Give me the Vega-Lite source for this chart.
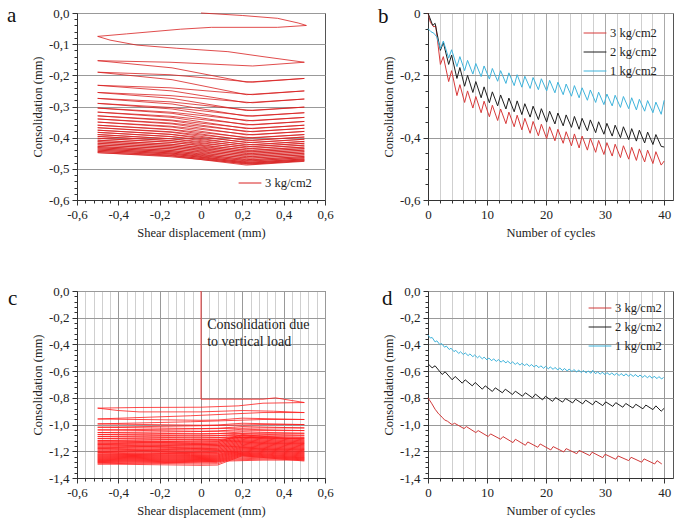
{
"$schema":"https://vega.github.io/schema/vega-lite/v6.json",
"padding":{"left":6,"top":4,"right":5,"bottom":5},
"config":{
 "font":"Liberation Serif",
 "view":{"stroke":"#555","strokeWidth":1},
 "axis":{"labelFont":"Liberation Serif","labelFontSize":13,"labelColor":"#222","labelFlush":false,"titleFont":"Liberation Serif","titleFontSize":12.5,"titleFontWeight":"normal","titleColor":"#222","domainColor":"#333","tickColor":"#333","tickSize":5,"labelPadding":3,"titlePadding":4,"gridColor":"#999","gridWidth":1},
 "axisX":{"labelPadding":3,"titlePadding":5},
 "legend":{"labelFont":"Liberation Serif","labelFontSize":12.5,"labelColor":"#222","symbolType":"stroke","symbolSize":520,"symbolStrokeWidth":1,"padding":0,"rowPadding":-6,"labelOffset":3},
 "title":{"font":"Liberation Serif","fontSize":21,"fontWeight":"normal","anchor":"start","frame":"group","offset":0,"color":"#111","baseline":"alphabetic"}
},
"columns":2,
"bounds":"flush",
"spacing":{"row":91,"column":103},
"resolve":{"scale":{"color":"independent"},"legend":{"color":"independent"}},
"concat":[
{
 "width":248,"height":187,
 "title":{"text":"a","dx":-70,"dy":23},
 "data":{"values":[
{"x":0,"y":0},{"x":0.2,"y":-0.008},{"x":0.37,"y":-0.017},{"x":0.47,"y":-0.032},{"x":0.51,"y":-0.04},
{"x":0.37,"y":-0.046},{"x":0.05,"y":-0.046},{"x":-0.1,"y":-0.052},{"x":-0.36,"y":-0.067},{"x":-0.5,"y":-0.075},
{"x":-0.44,"y":-0.087},{"x":-0.31,"y":-0.103},{"x":-0.12,"y":-0.113},{"x":0.13,"y":-0.124},{"x":0.3,"y":-0.14},{"x":0.5,"y":-0.158},
{"x":0.25,"y":-0.17},{"x":-0.15,"y":-0.158},{"x":-0.5,"y":-0.153},{"x":-0.14,"y":-0.176},{"x":0.22,"y":-0.222},{"x":0.5,"y":-0.21},
{"x":0.25,"y":-0.222},{"x":-0.15,"y":-0.198},{"x":-0.5,"y":-0.19},{"x":-0.14,"y":-0.214},{"x":0.22,"y":-0.262},{"x":0.5,"y":-0.25},
{"x":0.25,"y":-0.262},{"x":-0.15,"y":-0.24},{"x":-0.5,"y":-0.232},{"x":-0.14,"y":-0.25},{"x":0.22,"y":-0.288},{"x":0.5,"y":-0.276},
{"x":0.25,"y":-0.288},{"x":-0.15,"y":-0.265},{"x":-0.5,"y":-0.255},{"x":-0.14,"y":-0.274},{"x":0.22,"y":-0.313},{"x":0.5,"y":-0.302},
{"x":0.25,"y":-0.313},{"x":-0.15,"y":-0.285},{"x":-0.5,"y":-0.274},{"x":-0.14,"y":-0.292},{"x":0.22,"y":-0.331},{"x":0.5,"y":-0.32},
{"x":0.25,"y":-0.331},{"x":-0.15,"y":-0.303},{"x":-0.5,"y":-0.29},{"x":-0.14,"y":-0.308},{"x":0.22,"y":-0.346},{"x":0.5,"y":-0.335},
{"x":0.25,"y":-0.346},{"x":-0.15,"y":-0.318},{"x":-0.5,"y":-0.305},{"x":-0.14,"y":-0.322},{"x":0.22,"y":-0.359},{"x":0.5,"y":-0.348},
{"x":0.25,"y":-0.359},{"x":-0.15,"y":-0.331},{"x":-0.5,"y":-0.318},{"x":-0.14,"y":-0.335},{"x":0.22,"y":-0.371},{"x":0.5,"y":-0.36},
{"x":0.25,"y":-0.371},{"x":-0.15,"y":-0.343},{"x":-0.5,"y":-0.33},{"x":-0.14,"y":-0.346},{"x":0.22,"y":-0.381},{"x":0.5,"y":-0.37},
{"x":0.25,"y":-0.381},{"x":-0.15,"y":-0.353},{"x":-0.5,"y":-0.34},{"x":-0.14,"y":-0.356},{"x":0.22,"y":-0.391},{"x":0.5,"y":-0.38},
{"x":0.25,"y":-0.391},{"x":-0.15,"y":-0.363},{"x":-0.5,"y":-0.35},{"x":-0.14,"y":-0.366},{"x":0.22,"y":-0.401},{"x":0.5,"y":-0.39},
{"x":0.25,"y":-0.401},{"x":-0.15,"y":-0.373},{"x":-0.5,"y":-0.36},{"x":-0.14,"y":-0.375},{"x":0.22,"y":-0.409},{"x":0.5,"y":-0.398},
{"x":0.25,"y":-0.409},{"x":-0.15,"y":-0.381},{"x":-0.5,"y":-0.368},{"x":-0.14,"y":-0.383},{"x":0.22,"y":-0.416},{"x":0.5,"y":-0.405},
{"x":0.25,"y":-0.416},{"x":-0.15,"y":-0.389},{"x":-0.5,"y":-0.376},{"x":-0.14,"y":-0.39},{"x":0.22,"y":-0.423},{"x":0.5,"y":-0.412},
{"x":0.25,"y":-0.423},{"x":-0.15,"y":-0.396},{"x":-0.5,"y":-0.383},{"x":-0.14,"y":-0.397},{"x":0.22,"y":-0.429},{"x":0.5,"y":-0.418},
{"x":0.25,"y":-0.429},{"x":-0.15,"y":-0.403},{"x":-0.5,"y":-0.39},{"x":-0.14,"y":-0.404},{"x":0.22,"y":-0.435},{"x":0.5,"y":-0.424},
{"x":0.25,"y":-0.435},{"x":-0.15,"y":-0.409},{"x":-0.5,"y":-0.396},{"x":-0.14,"y":-0.41},{"x":0.22,"y":-0.441},{"x":0.5,"y":-0.43},
{"x":0.25,"y":-0.441},{"x":-0.15,"y":-0.415},{"x":-0.5,"y":-0.402},{"x":-0.14,"y":-0.415},{"x":0.22,"y":-0.446},{"x":0.5,"y":-0.435},
{"x":0.25,"y":-0.446},{"x":-0.15,"y":-0.421},{"x":-0.5,"y":-0.408},{"x":-0.14,"y":-0.421},{"x":0.22,"y":-0.451},{"x":0.5,"y":-0.44},
{"x":0.25,"y":-0.451},{"x":-0.15,"y":-0.426},{"x":-0.5,"y":-0.413},{"x":-0.14,"y":-0.426},{"x":0.22,"y":-0.456},{"x":0.5,"y":-0.445},
{"x":0.25,"y":-0.456},{"x":-0.15,"y":-0.431},{"x":-0.5,"y":-0.418},{"x":-0.14,"y":-0.431},{"x":0.22,"y":-0.461},{"x":0.5,"y":-0.45},
{"x":0.25,"y":-0.461},{"x":-0.15,"y":-0.436},{"x":-0.5,"y":-0.423},{"x":-0.14,"y":-0.436},{"x":0.22,"y":-0.466},{"x":0.5,"y":-0.455},
{"x":0.25,"y":-0.466},{"x":-0.15,"y":-0.441},{"x":-0.5,"y":-0.428},{"x":-0.14,"y":-0.441},{"x":0.22,"y":-0.471},{"x":0.5,"y":-0.46},
{"x":0.25,"y":-0.471},{"x":-0.15,"y":-0.445},{"x":-0.5,"y":-0.432},{"x":-0.14,"y":-0.445},{"x":0.22,"y":-0.475},{"x":0.5,"y":-0.464},
{"x":0.25,"y":-0.475},{"x":-0.15,"y":-0.449},{"x":-0.5,"y":-0.436},{"x":-0.14,"y":-0.449},{"x":0.22,"y":-0.479},{"x":0.5,"y":-0.468},
{"x":0.25,"y":-0.479},{"x":-0.15,"y":-0.453},{"x":-0.5,"y":-0.44},{"x":-0.14,"y":-0.452},{"x":0.22,"y":-0.482},{"x":0.5,"y":-0.471},
{"x":0.25,"y":-0.482},{"x":-0.15,"y":-0.457},{"x":-0.5,"y":-0.444},{"x":-0.14,"y":-0.456},{"x":0.22,"y":-0.485},{"x":0.5,"y":-0.474},
{"x":0.25,"y":-0.485},{"x":-0.15,"y":-0.461},{"x":-0.5,"y":-0.448},{"x":-0.14,"y":-0.459},{"x":0.22,"y":-0.488},{"x":0.5,"y":-0.476}
 ]},
 "layer":[
  {"mark":{"type":"line","strokeWidth":0.8},
   "encoding":{
    "x":{"field":"x","type":"quantitative","scale":{"domain":[-0.6,0.6],"nice":false,"zero":false},"axis":{"title":"Shear displacement (mm)","values":[-0.6,-0.4,-0.2,0,0.2,0.4,0.6],"grid":false,"labelExpr":"datum.value == 0 ? '0' : replace(replace(format(datum.value, '.1f'), '.', ','), '\u2212', '-')"}},
    "y":{"field":"y","type":"quantitative","scale":{"domain":[-0.6,0],"nice":false,"zero":false},"axis":{"title":"Consolidation (mm)","values":[0,-0.1,-0.2,-0.3,-0.4,-0.5,-0.6],"grid":true,"labelExpr":"replace(replace(format(datum.value, '.1f'), '.', ','), '\u2212', '-')"}},
    "color":{"datum":"3 kg/cm2","type":"nominal","scale":{"domain":["3 kg/cm2"],"range":["#d82020"]},"legend":{"orient":"none","legendX":161,"legendY":158,"title":null}},
    "order":{"value":null}
   }},
  {"mark":{"type":"line","strokeOpacity":0},
   "encoding":{
    "x":{"field":"x","type":"quantitative","axis":{"orient":"bottom","values":[-0.56,-0.52,-0.48,-0.44,-0.36,-0.32,-0.28,-0.24,-0.16,-0.12,-0.08,-0.04,0.04,0.08,0.12,0.16,0.24,0.28,0.32,0.36,0.44,0.48,0.52,0.56],"labels":false,"title":null,"tickSize":3,"grid":false,"domain":false}},
    "y":{"field":"y","type":"quantitative","axis":{"orient":"left","values":[-0.02,-0.04,-0.06,-0.08,-0.12,-0.14,-0.16,-0.18,-0.22,-0.24,-0.26,-0.28,-0.32,-0.34,-0.36,-0.38,-0.42,-0.44,-0.46,-0.48,-0.52,-0.54,-0.56,-0.58],"labels":false,"title":null,"tickSize":3,"grid":false,"domain":false}}
   }}
 ],
 "resolve":{"axis":{"x":"independent","y":"independent"}}
},
{
 "width":245,"height":187,
 "title":{"text":"b","dx":-50,"dy":24},
 "data":{"values":[
{"s":"3","x":0,"y":0},{"s":"3","x":0.4,"y":-0.03},{"s":"3","x":1.0,"y":-0.045},{"s":"3","x":1.3,"y":-0.04},
{"s":"3","x":2.1,"y":-0.165},{"s":"3","x":2.6,"y":-0.14},{"s":"3","x":3.5,"y":-0.22},{"s":"3","x":4.0,"y":-0.185},
{"s":"3","x":4.9,"y":-0.265},{"s":"3","x":5.4,"y":-0.23},{"s":"3","x":6.2,"y":-0.287},{"s":"3","x":6.7,"y":-0.25},
{"s":"3","x":7.6,"y":-0.305},{"s":"3","x":8.1,"y":-0.268},{"s":"3","x":9.0,"y":-0.32},{"s":"3","x":9.5,"y":-0.283},
{"s":"3","x":10.4,"y":-0.333},{"s":"3","x":10.9,"y":-0.296},{"s":"3","x":11.8,"y":-0.345},{"s":"3","x":12.3,"y":-0.308},
{"s":"3","x":13.2,"y":-0.355},{"s":"3","x":13.7,"y":-0.318},{"s":"3","x":14.6,"y":-0.365},{"s":"3","x":15.1,"y":-0.328},
{"s":"3","x":15.9,"y":-0.375},{"s":"3","x":16.4,"y":-0.338},{"s":"3","x":17.3,"y":-0.386},{"s":"3","x":17.8,"y":-0.348},
{"s":"3","x":18.7,"y":-0.394},{"s":"3","x":19.2,"y":-0.357},{"s":"3","x":20.1,"y":-0.403},{"s":"3","x":20.6,"y":-0.365},
{"s":"3","x":21.5,"y":-0.41},{"s":"3","x":22.0,"y":-0.373},{"s":"3","x":22.9,"y":-0.418},{"s":"3","x":23.4,"y":-0.381},
{"s":"3","x":24.3,"y":-0.426},{"s":"3","x":24.8,"y":-0.388},{"s":"3","x":25.6,"y":-0.433},{"s":"3","x":26.1,"y":-0.395},
{"s":"3","x":27.0,"y":-0.44},{"s":"3","x":27.5,"y":-0.402},{"s":"3","x":28.4,"y":-0.447},{"s":"3","x":28.9,"y":-0.409},
{"s":"3","x":29.8,"y":-0.454},{"s":"3","x":30.3,"y":-0.416},{"s":"3","x":31.2,"y":-0.459},{"s":"3","x":31.7,"y":-0.421},
{"s":"3","x":32.6,"y":-0.464},{"s":"3","x":33.1,"y":-0.426},{"s":"3","x":34.0,"y":-0.469},{"s":"3","x":34.5,"y":-0.431},
{"s":"3","x":35.3,"y":-0.473},{"s":"3","x":35.8,"y":-0.436},{"s":"3","x":36.7,"y":-0.478},{"s":"3","x":37.2,"y":-0.44},
{"s":"3","x":38.1,"y":-0.483},{"s":"3","x":38.6,"y":-0.445},{"s":"3","x":39.5,"y":-0.488},{"s":"3","x":40.0,"y":-0.475},
{"s":"2","x":0,"y":0},{"s":"2","x":0.3,"y":-0.015},{"s":"2","x":0.8,"y":-0.04},{"s":"2","x":1.2,"y":-0.033},
{"s":"2","x":2.1,"y":-0.12},{"s":"2","x":2.6,"y":-0.095},{"s":"2","x":3.5,"y":-0.165},{"s":"2","x":4.0,"y":-0.135},
{"s":"2","x":4.9,"y":-0.21},{"s":"2","x":5.4,"y":-0.175},{"s":"2","x":6.2,"y":-0.235},{"s":"2","x":6.7,"y":-0.2},
{"s":"2","x":7.6,"y":-0.255},{"s":"2","x":8.1,"y":-0.22},{"s":"2","x":9.0,"y":-0.272},{"s":"2","x":9.5,"y":-0.237},
{"s":"2","x":10.4,"y":-0.288},{"s":"2","x":10.9,"y":-0.253},{"s":"2","x":11.8,"y":-0.298},{"s":"2","x":12.3,"y":-0.263},
{"s":"2","x":13.2,"y":-0.308},{"s":"2","x":13.7,"y":-0.273},{"s":"2","x":14.6,"y":-0.317},{"s":"2","x":15.1,"y":-0.282},
{"s":"2","x":15.9,"y":-0.326},{"s":"2","x":16.4,"y":-0.291},{"s":"2","x":17.3,"y":-0.334},{"s":"2","x":17.8,"y":-0.299},
{"s":"2","x":18.7,"y":-0.342},{"s":"2","x":19.2,"y":-0.307},{"s":"2","x":20.1,"y":-0.35},{"s":"2","x":20.6,"y":-0.315},
{"s":"2","x":21.5,"y":-0.356},{"s":"2","x":22.0,"y":-0.321},{"s":"2","x":22.9,"y":-0.362},{"s":"2","x":23.4,"y":-0.327},
{"s":"2","x":24.3,"y":-0.367},{"s":"2","x":24.8,"y":-0.332},{"s":"2","x":25.6,"y":-0.373},{"s":"2","x":26.1,"y":-0.338},
{"s":"2","x":27.0,"y":-0.378},{"s":"2","x":27.5,"y":-0.343},{"s":"2","x":28.4,"y":-0.384},{"s":"2","x":28.9,"y":-0.349},
{"s":"2","x":29.8,"y":-0.389},{"s":"2","x":30.3,"y":-0.354},{"s":"2","x":31.2,"y":-0.395},{"s":"2","x":31.7,"y":-0.36},
{"s":"2","x":32.6,"y":-0.4},{"s":"2","x":33.1,"y":-0.365},{"s":"2","x":34.0,"y":-0.406},{"s":"2","x":34.5,"y":-0.371},
{"s":"2","x":35.3,"y":-0.411},{"s":"2","x":35.8,"y":-0.376},{"s":"2","x":36.7,"y":-0.417},{"s":"2","x":37.2,"y":-0.382},
{"s":"2","x":38.1,"y":-0.422},{"s":"2","x":38.6,"y":-0.39},{"s":"2","x":39.5,"y":-0.428},{"s":"2","x":40.0,"y":-0.43},
{"s":"1","x":0,"y":-0.05},{"s":"1","x":0.5,"y":-0.06},{"s":"1","x":1.0,"y":-0.065},{"s":"1","x":1.5,"y":-0.077},
{"s":"1","x":2.1,"y":-0.115},{"s":"1","x":2.6,"y":-0.09},{"s":"1","x":3.5,"y":-0.145},{"s":"1","x":4.0,"y":-0.118},
{"s":"1","x":4.9,"y":-0.172},{"s":"1","x":5.4,"y":-0.14},{"s":"1","x":6.2,"y":-0.185},{"s":"1","x":6.7,"y":-0.152},
{"s":"1","x":7.6,"y":-0.196},{"s":"1","x":8.1,"y":-0.162},{"s":"1","x":9.0,"y":-0.204},{"s":"1","x":9.5,"y":-0.17},
{"s":"1","x":10.4,"y":-0.212},{"s":"1","x":10.9,"y":-0.178},{"s":"1","x":11.8,"y":-0.219},{"s":"1","x":12.3,"y":-0.185},
{"s":"1","x":13.2,"y":-0.226},{"s":"1","x":13.7,"y":-0.192},{"s":"1","x":14.6,"y":-0.233},{"s":"1","x":15.1,"y":-0.198},
{"s":"1","x":15.9,"y":-0.238},{"s":"1","x":16.4,"y":-0.203},{"s":"1","x":17.3,"y":-0.242},{"s":"1","x":17.8,"y":-0.207},
{"s":"1","x":18.7,"y":-0.246},{"s":"1","x":19.2,"y":-0.211},{"s":"1","x":20.1,"y":-0.25},{"s":"1","x":20.6,"y":-0.216},
{"s":"1","x":21.5,"y":-0.256},{"s":"1","x":22.0,"y":-0.222},{"s":"1","x":22.9,"y":-0.262},{"s":"1","x":23.4,"y":-0.228},
{"s":"1","x":24.3,"y":-0.267},{"s":"1","x":24.8,"y":-0.233},{"s":"1","x":25.6,"y":-0.272},{"s":"1","x":26.1,"y":-0.24},
{"s":"1","x":27.0,"y":-0.28},{"s":"1","x":27.5,"y":-0.247},{"s":"1","x":28.4,"y":-0.287},{"s":"1","x":28.9,"y":-0.254},
{"s":"1","x":29.8,"y":-0.294},{"s":"1","x":30.3,"y":-0.26},{"s":"1","x":31.2,"y":-0.298},{"s":"1","x":31.7,"y":-0.264},
{"s":"1","x":32.6,"y":-0.303},{"s":"1","x":33.1,"y":-0.268},{"s":"1","x":34.0,"y":-0.307},{"s":"1","x":34.5,"y":-0.272},
{"s":"1","x":35.3,"y":-0.311},{"s":"1","x":35.8,"y":-0.277},{"s":"1","x":36.7,"y":-0.315},{"s":"1","x":37.2,"y":-0.281},
{"s":"1","x":38.1,"y":-0.32},{"s":"1","x":38.6,"y":-0.286},{"s":"1","x":39.5,"y":-0.325},{"s":"1","x":40.0,"y":-0.28}
 ]},
 "layer":[
  {"mark":{"type":"line","strokeWidth":1},
   "encoding":{
    "x":{"field":"x","type":"quantitative","scale":{"domain":[0,41.5],"nice":false,"zero":false},"axis":{"title":"Number of cycles","values":[0,10,20,30,40],"grid":true,"gridColor":"#aaa"}},
    "y":{"field":"y","type":"quantitative","scale":{"domain":[-0.6,0],"nice":false,"zero":false},"axis":{"title":"Consolidation (mm)","values":[0,-0.2,-0.4,-0.6],"grid":true,"labelExpr":"datum.value == 0 ? '0' : replace(replace(format(datum.value, '.1f'), '.', ','), '\u2212', '-')"}},
    "color":{"field":"s","type":"nominal","scale":{"domain":["3","2","1"],"range":["#d83a3a","#1e1e1e","#3fb4dc"]},"legend":{"orient":"none","legendX":155,"legendY":8,"title":null,"labelExpr":"datum.label + ' kg/cm2'"}}
   }},
  {"mark":{"type":"line","strokeOpacity":0},
   "encoding":{
    "x":{"field":"x","type":"quantitative","axis":{"orient":"bottom","values":[2,4,6,8,12,14,16,18,22,24,26,28,32,34,36,38],"labels":false,"title":null,"tickSize":3,"grid":true,"gridColor":"#cfcfcf","domain":false}},
    "y":{"field":"y","type":"quantitative","axis":{"orient":"left","values":[-0.05,-0.1,-0.15,-0.25,-0.3,-0.35,-0.45,-0.5,-0.55],"labels":false,"title":null,"tickSize":3,"grid":false,"domain":false}},
    "detail":{"field":"s","type":"nominal"}
   }}
 ],
 "resolve":{"axis":{"x":"independent","y":"independent"}}
},
{
 "width":248,"height":187,
 "title":{"text":"c","dx":-69,"dy":28},
 "data":{"values":[
{"x":0,"y":0},{"x":0,"y":-0.81},{"x":0.3,"y":-0.81},{"x":0.36,"y":-0.8},{"x":0.5,"y":-0.835},
{"x":0.3,"y":-0.84},{"x":0.18,"y":-0.86},{"x":0,"y":-0.87},{"x":-0.3,"y":-0.872},{"x":-0.5,"y":-0.877},
{"x":-0.4,"y":-0.895},{"x":-0.3,"y":-0.905},{"x":0,"y":-0.905},{"x":0.2,"y":-0.895},{"x":0.35,"y":-0.9},{"x":0.5,"y":-0.91},
{"x":0.3,"y":-0.91},{"x":-0.05,"y":-0.934},{"x":-0.5,"y":-0.958},{"x":0,"y":-0.968},{"x":0.08,"y":-0.966},{"x":0.2,"y":-0.952},{"x":0.5,"y":-0.962},
{"x":0.3,"y":-0.962},{"x":-0.05,"y":-0.979},{"x":-0.5,"y":-0.995},{"x":0,"y":-1.005},{"x":0.08,"y":-1.003},{"x":0.2,"y":-0.99},{"x":0.5,"y":-1.0},
{"x":0.3,"y":-1.0},{"x":-0.05,"y":-1.01},{"x":-0.5,"y":-1.02},{"x":0,"y":-1.03},{"x":0.08,"y":-1.028},{"x":0.2,"y":-1.015},{"x":0.5,"y":-1.025},
{"x":0.3,"y":-1.025},{"x":-0.05,"y":-1.033},{"x":-0.5,"y":-1.04},{"x":0,"y":-1.05},{"x":0.08,"y":-1.048},{"x":0.2,"y":-1.035},{"x":0.5,"y":-1.045},
{"x":0.3,"y":-1.045},{"x":-0.05,"y":-1.053},{"x":-0.5,"y":-1.06},{"x":0,"y":-1.07},{"x":0.08,"y":-1.068},{"x":0.2,"y":-1.055},{"x":0.5,"y":-1.065},
{"x":0.3,"y":-1.065},{"x":-0.05,"y":-1.07},{"x":-0.5,"y":-1.075},{"x":0,"y":-1.085},{"x":0.08,"y":-1.083},{"x":0.2,"y":-1.07},{"x":0.5,"y":-1.08},
{"x":0.3,"y":-1.08},{"x":-0.05,"y":-1.085},{"x":-0.5,"y":-1.09},{"x":0,"y":-1.1},{"x":0.08,"y":-1.098},{"x":0.2,"y":-1.085},{"x":0.5,"y":-1.095},
{"x":0.3,"y":-1.095},{"x":-0.05,"y":-1.1},{"x":-0.5,"y":-1.105},{"x":0,"y":-1.115},{"x":0.08,"y":-1.113},{"x":0.2,"y":-1.095},{"x":0.5,"y":-1.105},
{"x":0.3,"y":-1.105},{"x":-0.05,"y":-1.113},{"x":-0.5,"y":-1.12},{"x":0,"y":-1.13},{"x":0.08,"y":-1.128},{"x":0.2,"y":-1.075},{"x":0.5,"y":-1.115},
{"x":0.3,"y":-1.115},{"x":-0.05,"y":-1.123},{"x":-0.5,"y":-1.13},{"x":0,"y":-1.14},{"x":0.08,"y":-1.138},{"x":0.2,"y":-1.084},{"x":0.5,"y":-1.124},
{"x":0.3,"y":-1.124},{"x":-0.05,"y":-1.132},{"x":-0.5,"y":-1.14},{"x":0,"y":-1.15},{"x":0.08,"y":-1.148},{"x":0.2,"y":-1.093},{"x":0.5,"y":-1.133},
{"x":0.3,"y":-1.133},{"x":-0.05,"y":-1.142},{"x":-0.5,"y":-1.15},{"x":0,"y":-1.16},{"x":0.08,"y":-1.158},{"x":0.2,"y":-1.102},{"x":0.5,"y":-1.142},
{"x":0.3,"y":-1.142},{"x":-0.05,"y":-1.151},{"x":-0.5,"y":-1.16},{"x":0,"y":-1.17},{"x":0.08,"y":-1.168},{"x":0.2,"y":-1.111},{"x":0.5,"y":-1.151},
{"x":0.3,"y":-1.151},{"x":-0.05,"y":-1.16},{"x":-0.5,"y":-1.17},{"x":0,"y":-1.18},{"x":0.08,"y":-1.178},{"x":0.2,"y":-1.12},{"x":0.5,"y":-1.16},
{"x":0.3,"y":-1.16},{"x":-0.05,"y":-1.17},{"x":-0.5,"y":-1.18},{"x":0,"y":-1.19},{"x":0.08,"y":-1.188},{"x":0.2,"y":-1.129},{"x":0.5,"y":-1.169},
{"x":0.3,"y":-1.169},{"x":-0.05,"y":-1.18},{"x":-0.5,"y":-1.19},{"x":0,"y":-1.2},{"x":0.08,"y":-1.198},{"x":0.2,"y":-1.138},{"x":0.5,"y":-1.178},
{"x":0.3,"y":-1.178},{"x":-0.05,"y":-1.189},{"x":-0.5,"y":-1.2},{"x":0,"y":-1.21},{"x":0.08,"y":-1.208},{"x":0.2,"y":-1.147},{"x":0.5,"y":-1.187},
{"x":0.3,"y":-1.187},{"x":-0.05,"y":-1.198},{"x":-0.5,"y":-1.21},{"x":0,"y":-1.22},{"x":0.08,"y":-1.218},{"x":0.2,"y":-1.156},{"x":0.5,"y":-1.196},
{"x":0.3,"y":-1.196},{"x":-0.05,"y":-1.208},{"x":-0.5,"y":-1.22},{"x":0,"y":-1.23},{"x":0.08,"y":-1.228},{"x":0.2,"y":-1.165},{"x":0.5,"y":-1.205},
{"x":0.3,"y":-1.205},{"x":-0.05,"y":-1.216},{"x":-0.5,"y":-1.228},{"x":0,"y":-1.238},{"x":0.08,"y":-1.236},{"x":0.2,"y":-1.173},{"x":0.5,"y":-1.213},
{"x":0.3,"y":-1.213},{"x":-0.05,"y":-1.224},{"x":-0.5,"y":-1.236},{"x":0,"y":-1.246},{"x":0.08,"y":-1.244},{"x":0.2,"y":-1.181},{"x":0.5,"y":-1.221},
{"x":0.3,"y":-1.221},{"x":-0.05,"y":-1.232},{"x":-0.5,"y":-1.244},{"x":0,"y":-1.254},{"x":0.08,"y":-1.252},{"x":0.2,"y":-1.189},{"x":0.5,"y":-1.229},
{"x":0.3,"y":-1.229},{"x":-0.05,"y":-1.24},{"x":-0.5,"y":-1.252},{"x":0,"y":-1.262},{"x":0.08,"y":-1.26},{"x":0.2,"y":-1.197},{"x":0.5,"y":-1.237},
{"x":0.3,"y":-1.237},{"x":-0.05,"y":-1.248},{"x":-0.5,"y":-1.26},{"x":0,"y":-1.27},{"x":0.08,"y":-1.268},{"x":0.2,"y":-1.205},{"x":0.5,"y":-1.245},
{"x":0.3,"y":-1.245},{"x":-0.05,"y":-1.256},{"x":-0.5,"y":-1.268},{"x":0,"y":-1.278},{"x":0.08,"y":-1.276},{"x":0.2,"y":-1.212},{"x":0.5,"y":-1.252},
{"x":0.3,"y":-1.252},{"x":-0.05,"y":-1.264},{"x":-0.5,"y":-1.276},{"x":0,"y":-1.286},{"x":0.08,"y":-1.284},{"x":0.2,"y":-1.219},{"x":0.5,"y":-1.259},
{"x":0.3,"y":-1.259},{"x":-0.05,"y":-1.272},{"x":-0.5,"y":-1.285},{"x":0,"y":-1.295},{"x":0.08,"y":-1.293},{"x":0.2,"y":-1.226},{"x":0.5,"y":-1.266},
{"x":0.3,"y":-1.266},{"x":-0.05,"y":-1.28},{"x":-0.5,"y":-1.295},{"x":0,"y":-1.305},{"x":0.08,"y":-1.303},{"x":0.2,"y":-1.233},{"x":0.5,"y":-1.273}
 ]},
 "layer":[
  {"mark":{"type":"line","strokeWidth":0.8,"color":"#ff1a1a"},
   "encoding":{
    "x":{"field":"x","type":"quantitative","scale":{"domain":[-0.6,0.6],"nice":false,"zero":false},"axis":{"title":"Shear displacement (mm)","values":[-0.6,-0.4,-0.2,0,0.2,0.4,0.6],"grid":true,"labelExpr":"datum.value == 0 ? '0' : replace(replace(format(datum.value, '.1f'), '.', ','), '\u2212', '-')"}},
    "y":{"field":"y","type":"quantitative","scale":{"domain":[-1.4,0],"nice":false,"zero":false},"axis":{"title":"Consolidation (mm)","values":[0,-0.2,-0.4,-0.6,-0.8,-1.0,-1.2,-1.4],"grid":true,"labelExpr":"replace(replace(format(datum.value, '.1f'), '.', ','), '\u2212', '-')"}},
    "order":{"value":null}
   }},
  {"mark":{"type":"line","strokeOpacity":0},
   "encoding":{
    "x":{"field":"x","type":"quantitative","axis":{"orient":"bottom","values":[-0.56,-0.52,-0.48,-0.44,-0.36,-0.32,-0.28,-0.24,-0.16,-0.12,-0.08,-0.04,0.04,0.08,0.12,0.16,0.24,0.28,0.32,0.36,0.44,0.48,0.52,0.56],"labels":false,"title":null,"tickSize":3,"grid":true,"gridColor":"#cfcfcf","domain":false}},
    "y":{"field":"y","type":"quantitative","axis":{"orient":"left","values":[-0.04,-0.08,-0.12,-0.16,-0.24,-0.28,-0.32,-0.36,-0.44,-0.48,-0.52,-0.56,-0.64,-0.68,-0.72,-0.76,-0.84,-0.88,-0.92,-0.96,-1.04,-1.08,-1.12,-1.16,-1.24,-1.28,-1.32,-1.36],"labels":false,"title":null,"tickSize":3,"grid":false,"domain":false}}
   }},
  {"data":{"values":[{}]},
   "mark":{"type":"text","align":"left","baseline":"alphabetic","fontSize":14,"font":"Liberation Serif","color":"#222","lineHeight":17},
   "encoding":{
    "x":{"datum":0.03,"type":"quantitative","axis":null},
    "y":{"datum":-0.284,"type":"quantitative","axis":null},
    "text":{"value":["Consolidation due"," to vertical load"]}
   }}
 ],
 "resolve":{"axis":{"x":"independent","y":"independent"}}
},
{
 "width":245,"height":187,
 "title":{"text":"d","dx":-46,"dy":28},
 "data":{"values":[
{"s":"3","x":0,"y":-0.8},{"s":"3","x":0.6,"y":-0.84},{"s":"3","x":1.2,"y":-0.885},{"s":"3","x":1.8,"y":-0.92},
{"s":"3","x":2.4,"y":-0.945},{"s":"3","x":2.8,"y":-0.965},{"s":"3","x":3.3,"y":-0.975},{"s":"3","x":3.9,"y":-0.995},
{"s":"3","x":4.1,"y":-1.0},{"s":"3","x":4.5,"y":-0.99},{"s":"3","x":6.1,"y":-1.03},{"s":"3","x":6.5,"y":-1.015},
{"s":"3","x":8.1,"y":-1.06},{"s":"3","x":8.5,"y":-1.045},{"s":"3","x":10.2,"y":-1.09},{"s":"3","x":10.6,"y":-1.07},
{"s":"3","x":12.3,"y":-1.11},{"s":"3","x":12.7,"y":-1.09},{"s":"3","x":14.4,"y":-1.135},{"s":"3","x":14.8,"y":-1.11},
{"s":"3","x":16.5,"y":-1.155},{"s":"3","x":16.9,"y":-1.13},{"s":"3","x":18.6,"y":-1.17},{"s":"3","x":19.0,"y":-1.145},
{"s":"3","x":20.8,"y":-1.19},{"s":"3","x":21.2,"y":-1.165},{"s":"3","x":23.0,"y":-1.205},{"s":"3","x":23.4,"y":-1.18},
{"s":"3","x":25.2,"y":-1.218},{"s":"3","x":25.6,"y":-1.193},{"s":"3","x":27.4,"y":-1.232},{"s":"3","x":27.8,"y":-1.207},
{"s":"3","x":29.6,"y":-1.248},{"s":"3","x":30.0,"y":-1.222},{"s":"3","x":31.8,"y":-1.26},{"s":"3","x":32.2,"y":-1.235},
{"s":"3","x":34.0,"y":-1.27},{"s":"3","x":34.4,"y":-1.245},{"s":"3","x":36.2,"y":-1.282},{"s":"3","x":36.6,"y":-1.257},
{"s":"3","x":38.4,"y":-1.295},{"s":"3","x":38.8,"y":-1.27},{"s":"3","x":39.6,"y":-1.295},
{"s":"2","x":0,"y":-0.545},{"s":"2","x":0.7,"y":-0.575},{"s":"2","x":1.2,"y":-0.56},{"s":"2","x":2.4,"y":-0.625},{"s":"2","x":2.9,"y":-0.605},
{"s":"2","x":4.1,"y":-0.665},{"s":"2","x":4.6,"y":-0.64},{"s":"2","x":5.8,"y":-0.69},{"s":"2","x":6.3,"y":-0.665},
{"s":"2","x":7.5,"y":-0.71},{"s":"2","x":8.0,"y":-0.685},{"s":"2","x":9.2,"y":-0.735},{"s":"2","x":9.7,"y":-0.71},
{"s":"2","x":10.9,"y":-0.752},{"s":"2","x":11.4,"y":-0.725},{"s":"2","x":12.6,"y":-0.762},{"s":"2","x":13.1,"y":-0.735},
{"s":"2","x":14.3,"y":-0.775},{"s":"2","x":14.8,"y":-0.75},{"s":"2","x":16.0,"y":-0.788},{"s":"2","x":16.5,"y":-0.762},
{"s":"2","x":17.7,"y":-0.8},{"s":"2","x":18.2,"y":-0.772},{"s":"2","x":19.4,"y":-0.815},{"s":"2","x":19.9,"y":-0.788},
{"s":"2","x":21.1,"y":-0.826},{"s":"2","x":21.6,"y":-0.798},{"s":"2","x":22.8,"y":-0.832},{"s":"2","x":23.3,"y":-0.805},
{"s":"2","x":24.5,"y":-0.838},{"s":"2","x":25.0,"y":-0.81},{"s":"2","x":26.2,"y":-0.845},{"s":"2","x":26.7,"y":-0.817},
{"s":"2","x":27.9,"y":-0.852},{"s":"2","x":28.4,"y":-0.823},{"s":"2","x":29.6,"y":-0.858},{"s":"2","x":30.1,"y":-0.83},
{"s":"2","x":31.3,"y":-0.864},{"s":"2","x":31.8,"y":-0.836},{"s":"2","x":33.0,"y":-0.87},{"s":"2","x":33.5,"y":-0.842},
{"s":"2","x":34.7,"y":-0.876},{"s":"2","x":35.2,"y":-0.848},{"s":"2","x":36.4,"y":-0.882},{"s":"2","x":36.9,"y":-0.854},
{"s":"2","x":38.1,"y":-0.888},{"s":"2","x":38.6,"y":-0.86},{"s":"2","x":39.5,"y":-0.9},{"s":"2","x":40.0,"y":-0.878},
{"s":"1","x":0,"y":-0.33},{"s":"1","x":0.4,"y":-0.352},{"s":"1","x":0.7,"y":-0.348},{"s":"1","x":1.2,"y":-0.381},{"s":"1","x":1.5,"y":-0.373},
{"s":"1","x":2.0,"y":-0.401},{"s":"1","x":2.3,"y":-0.393},{"s":"1","x":2.8,"y":-0.421},{"s":"1","x":3.1,"y":-0.412},
{"s":"1","x":3.6,"y":-0.438},{"s":"1","x":3.9,"y":-0.428},{"s":"1","x":4.4,"y":-0.454},{"s":"1","x":4.7,"y":-0.444},
{"s":"1","x":5.2,"y":-0.468},{"s":"1","x":5.5,"y":-0.455},{"s":"1","x":6.0,"y":-0.476},{"s":"1","x":6.3,"y":-0.463},
{"s":"1","x":6.8,"y":-0.484},{"s":"1","x":7.1,"y":-0.471},{"s":"1","x":7.6,"y":-0.492},{"s":"1","x":7.9,"y":-0.479},
{"s":"1","x":8.4,"y":-0.5},{"s":"1","x":8.7,"y":-0.487},{"s":"1","x":9.2,"y":-0.508},{"s":"1","x":9.5,"y":-0.495},
{"s":"1","x":10.0,"y":-0.516},{"s":"1","x":10.3,"y":-0.502},{"s":"1","x":10.8,"y":-0.522},{"s":"1","x":11.1,"y":-0.508},
{"s":"1","x":11.6,"y":-0.527},{"s":"1","x":11.9,"y":-0.513},{"s":"1","x":12.4,"y":-0.533},{"s":"1","x":12.7,"y":-0.519},
{"s":"1","x":13.2,"y":-0.538},{"s":"1","x":13.5,"y":-0.525},{"s":"1","x":14.0,"y":-0.544},{"s":"1","x":14.3,"y":-0.53},
{"s":"1","x":14.8,"y":-0.55},{"s":"1","x":15.1,"y":-0.536},{"s":"1","x":15.6,"y":-0.555},{"s":"1","x":15.9,"y":-0.541},
{"s":"1","x":16.4,"y":-0.559},{"s":"1","x":16.7,"y":-0.545},{"s":"1","x":17.2,"y":-0.564},{"s":"1","x":17.5,"y":-0.55},
{"s":"1","x":18.0,"y":-0.569},{"s":"1","x":18.3,"y":-0.555},{"s":"1","x":18.8,"y":-0.574},{"s":"1","x":19.1,"y":-0.56},
{"s":"1","x":19.6,"y":-0.579},{"s":"1","x":19.9,"y":-0.564},{"s":"1","x":20.4,"y":-0.583},{"s":"1","x":20.7,"y":-0.568},
{"s":"1","x":21.2,"y":-0.587},{"s":"1","x":21.5,"y":-0.572},{"s":"1","x":22.0,"y":-0.591},{"s":"1","x":22.3,"y":-0.576},
{"s":"1","x":22.8,"y":-0.595},{"s":"1","x":23.1,"y":-0.58},{"s":"1","x":23.6,"y":-0.599},{"s":"1","x":23.9,"y":-0.584},
{"s":"1","x":24.4,"y":-0.603},{"s":"1","x":24.7,"y":-0.588},{"s":"1","x":25.2,"y":-0.607},{"s":"1","x":25.5,"y":-0.592},
{"s":"1","x":26.0,"y":-0.61},{"s":"1","x":26.3,"y":-0.595},{"s":"1","x":26.8,"y":-0.613},{"s":"1","x":27.1,"y":-0.598},
{"s":"1","x":27.6,"y":-0.616},{"s":"1","x":27.9,"y":-0.594},{"s":"1","x":28.4,"y":-0.62},{"s":"1","x":28.7,"y":-0.605},
{"s":"1","x":29.2,"y":-0.623},{"s":"1","x":29.5,"y":-0.608},{"s":"1","x":30.0,"y":-0.626},{"s":"1","x":30.3,"y":-0.611},
{"s":"1","x":30.8,"y":-0.628},{"s":"1","x":31.1,"y":-0.613},{"s":"1","x":31.6,"y":-0.631},{"s":"1","x":31.9,"y":-0.616},
{"s":"1","x":32.4,"y":-0.633},{"s":"1","x":32.7,"y":-0.618},{"s":"1","x":33.2,"y":-0.636},{"s":"1","x":33.5,"y":-0.62},
{"s":"1","x":34.0,"y":-0.638},{"s":"1","x":34.3,"y":-0.623},{"s":"1","x":34.8,"y":-0.64},{"s":"1","x":35.1,"y":-0.625},
{"s":"1","x":35.6,"y":-0.643},{"s":"1","x":35.9,"y":-0.629},{"s":"1","x":36.4,"y":-0.647},{"s":"1","x":36.7,"y":-0.632},
{"s":"1","x":37.2,"y":-0.65},{"s":"1","x":37.5,"y":-0.635},{"s":"1","x":38.0,"y":-0.653},{"s":"1","x":38.3,"y":-0.638},
{"s":"1","x":38.8,"y":-0.656},{"s":"1","x":39.1,"y":-0.641},{"s":"1","x":39.6,"y":-0.659},{"s":"1","x":39.9,"y":-0.645}
 ]},
 "layer":[
  {"mark":{"type":"line","strokeWidth":1},
   "encoding":{
    "x":{"field":"x","type":"quantitative","scale":{"domain":[0,41.5],"nice":false,"zero":false},"axis":{"title":"Number of cycles","values":[0,10,20,30,40],"grid":true,"gridColor":"#999"}},
    "y":{"field":"y","type":"quantitative","scale":{"domain":[-1.4,0],"nice":false,"zero":false},"axis":{"title":"Consolidation (mm)","values":[0,-0.2,-0.4,-0.6,-0.8,-1.0,-1.2,-1.4],"grid":true,"labelExpr":"replace(replace(format(datum.value, '.1f'), '.', ','), '\u2212', '-')"}},
    "color":{"field":"s","type":"nominal","scale":{"domain":["3","2","1"],"range":["#d03a3a","#1e1e1e","#3fb4dc"]},"legend":{"orient":"none","legendX":160,"legendY":5,"rowPadding":-5,"title":null,"labelExpr":"datum.label + ' kg/cm2'"}}
   }},
  {"mark":{"type":"line","strokeOpacity":0},
   "encoding":{
    "x":{"field":"x","type":"quantitative","axis":{"orient":"bottom","values":[2,4,6,8,12,14,16,18,22,24,26,28,32,34,36,38],"labels":false,"title":null,"tickSize":3,"grid":true,"gridColor":"#cfcfcf","domain":false}},
    "y":{"field":"y","type":"quantitative","axis":{"orient":"left","values":[-0.04,-0.08,-0.12,-0.16,-0.24,-0.28,-0.32,-0.36,-0.44,-0.48,-0.52,-0.56,-0.64,-0.68,-0.72,-0.76,-0.84,-0.88,-0.92,-0.96,-1.04,-1.08,-1.12,-1.16,-1.24,-1.28,-1.32,-1.36],"labels":false,"title":null,"tickSize":3,"grid":false,"domain":false}},
    "detail":{"field":"s","type":"nominal"}
   }}
 ],
 "resolve":{"axis":{"x":"independent","y":"independent"}}
}
]
}
